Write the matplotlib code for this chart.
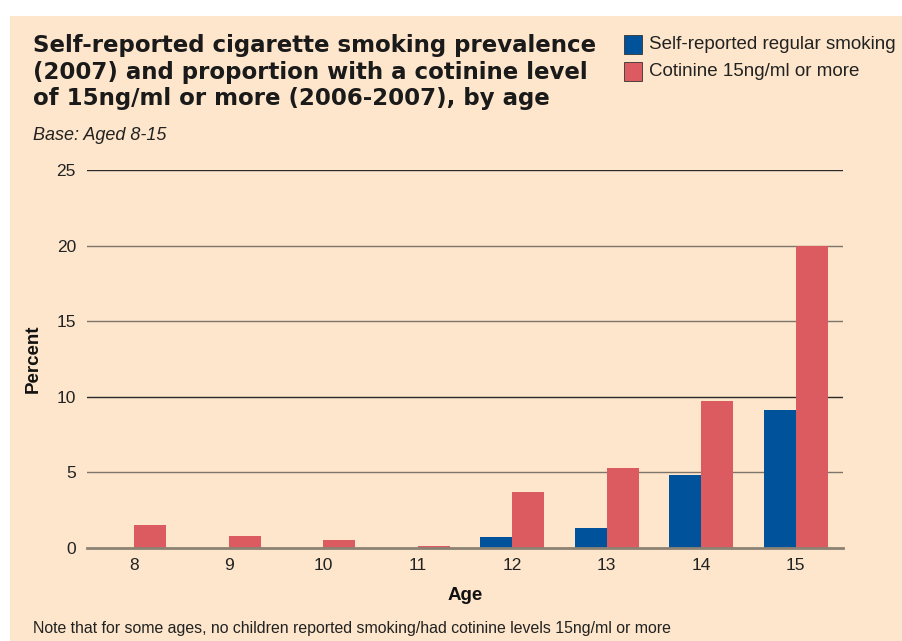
import numpy as np
import matplotlib
matplotlib.use("Agg")
from matplotlib import pyplot as plt
from matplotlib.patches import Rectangle

# data: percent by age
ages = ["8", "9", "10", "11", "12", "13", "14", "15"]
self_reported = [0, 0, 0, 0, 0.7, 1.3, 4.8, 9.1]
cotinine = [1.5, 0.8, 0.5, 0.1, 3.7, 5.3, 9.7, 20.0]
series_names = ["Self-reported regular smoking", "Cotinine 15ng/ml or more"]
yticks = [0, 5, 10, 15, 20, 25]
title_lines = ["Self-reported cigarette smoking prevalence",
               "(2007) and proportion with a cotinine level",
               "of 15ng/ml or more (2006-2007), by age"]

BG = "#fde6cb"
BLUE = "#00529b"
RED = "#dc5b60"
TXT = "#222222"

plt.rcParams["font.family"] = ["Liberation Sans", "DejaVu Sans"]

fig = plt.figure(figsize=(9.02, 6.41), dpi=100)
fig.patch.set_facecolor("white")
# peach panel, white strip left and top
fig.patches.append(Rectangle((10 / 902, 0), 1, 1 - 16 / 641,
                             transform=fig.transFigure, facecolor=BG,
                             edgecolor="none", zorder=-10))

ax = fig.add_axes([87 / 902, (641 - 548) / 641, 756 / 902, 378 / 641])
ax.set_facecolor("none")

x = np.arange(len(ages))
w = 0.34
ax.bar(x - w / 2, self_reported, w, color=BLUE, zorder=3)
ax.bar(x + w / 2, cotinine, w, color=RED, zorder=3)

ax.set_xlim(-0.5, len(ages) - 0.5)
ax.set_ylim(0, 25)
ax.set_yticks(yticks)
ax.set_xticks(x)
ax.set_xticklabels(ages)
for y in yticks[1:]:
    ax.axhline(y, color="#2a2a2a" if y in (10, 25) else "#7d746a", lw=1.0, zorder=1)
ax.axhline(0, color="#8c8274", lw=2.0, zorder=4, clip_on=False)

for s in ax.spines.values():
    s.set_visible(False)
ax.tick_params(axis="both", length=0, labelsize=12.5, colors=TXT)
ax.tick_params(axis="y", pad=8)
ax.tick_params(axis="x", pad=7)

ax.set_xlabel("Age", fontsize=13.5, fontweight="bold", labelpad=10, color="#111111")
fig.text(33 / 902, 1 - 359 / 641, "Percent", rotation=90, fontsize=13.5,
         fontweight="bold", ha="center", va="center", color="#111111")

# title, one line at a time
for i, line in enumerate(title_lines):
    fig.text(33 / 902, 1 - (52 + 26.5 * i) / 641, line, fontsize=16.5,
             fontweight="bold", family="DejaVu Sans", ha="left",
             va="baseline", color="#1a1a1a")
fig.text(33 / 902, 1 - 135 / 641, "Base: Aged 8-15", fontsize=13,
         style="italic", ha="left", va="center", color=TXT)

# legend
for i, (name, col) in enumerate(zip(series_names, [BLUE, RED])):
    yc = 1 - (44.5 + 26.5 * i) / 641
    fig.patches.append(Rectangle((624 / 902, yc - 9.5 / 641), 18 / 902, 19 / 641,
                                 transform=fig.transFigure, facecolor=col,
                                 edgecolor="#333333", lw=0.6))
    fig.text(649 / 902, yc, name, fontsize=13.5, ha="left", va="center", color=TXT)

fig.text(33 / 902, 1 - 628 / 641,
         "Note that for some ages, no children reported smoking/had cotinine levels 15ng/ml or more",
         fontsize=11.4, ha="left", va="center", color=TXT)

fig.savefig("out.png", dpi=100, facecolor=fig.get_facecolor())
